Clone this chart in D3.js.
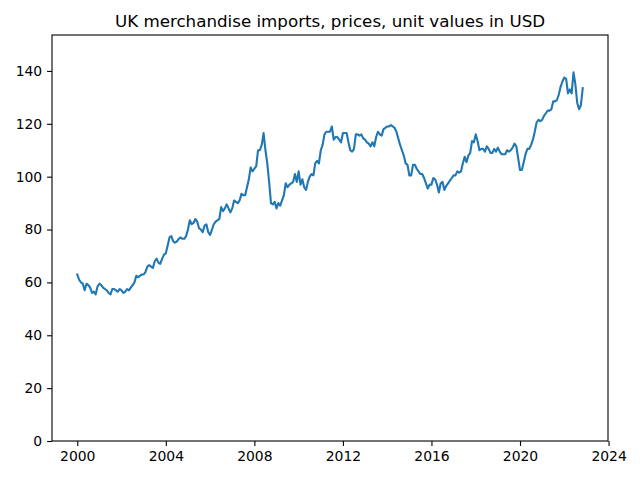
<!DOCTYPE html>
<html>
<head>
<meta charset="utf-8">
<script src="https://cdn.jsdelivr.net/npm/d3@7"></script>
<style>
  body { margin: 0; background: #fff; }
  text { font-family: "DejaVu Sans", sans-serif; }
</style>
</head>
<body>
<svg id="chart" width="640" height="480"></svg>
<script>
// monthly index values, Jan 2000 .. Nov 2022, one row per year
var startYear = 2000;
var values2000 = [63, 61, 60, 59.5, 57, 59.5, 59, 58, 56, 56.5, 55.5, 58.5];
var values2001 = [59.5, 59, 58, 57.5, 57, 56, 55.5, 57.5, 57.5, 57, 56.5, 57.5];
var values2002 = [57, 56, 56.5, 57.5, 57, 58, 59, 60, 62.5, 62, 62.5, 63];
var values2003 = [63, 64, 66, 66.5, 66, 65.5, 68, 69, 67.5, 67, 69, 70.5];
var values2004 = [71, 74, 77, 77.5, 75.5, 75, 75.5, 76.5, 77, 76.5, 76.5, 77.5];
var values2005 = [80, 83.5, 82, 82.5, 84, 83, 80.5, 80, 79, 81.5, 82, 79];
var values2006 = [78, 80, 82, 83, 83.5, 84, 88.5, 87, 88, 89.5, 88, 86.5];
var values2007 = [88, 91, 90.5, 90, 91, 93.5, 93, 93, 96, 99, 103.5, 102];
var values2008 = [103, 104, 110, 110, 112, 116.5, 110, 105, 98, 90, 89.5, 90.5];
var values2009 = [88, 90, 89, 91, 93, 97.5, 96, 97, 97.5, 98, 101, 98];
var values2010 = [102, 97, 99, 96, 95, 98, 100, 101, 100.5, 105, 106, 105];
var values2011 = [110, 112, 116, 117, 117, 117, 119, 114, 115, 115, 114, 113];
var values2012 = [116.5, 116.5, 116.5, 113, 110, 109.5, 110.5, 116, 116, 115.5, 116, 114.5];
var values2013 = [114, 113, 112.5, 111.5, 113, 111.5, 115, 117, 116, 115.5, 118, 118.5];
var values2014 = [119, 119, 119.5, 119, 118.5, 117, 114.5, 112, 110, 108, 105, 104.5];
var values2015 = [100.5, 100.5, 104.5, 104.5, 103, 102, 101, 101, 99.5, 97.5, 95.5, 97];
var values2016 = [97, 99.5, 99, 97, 94, 97.5, 98, 95, 96.5, 97.5, 98.5, 99.5];
var values2017 = [100.5, 100.5, 102, 101.5, 102, 105, 107.5, 105.5, 108, 109, 113.5, 113];
var values2018 = [116, 113.5, 110, 110.5, 110.5, 109.5, 111.5, 110.5, 109, 109, 110.5, 109.5];
var values2019 = [111, 109.5, 108.5, 108.5, 108.5, 110, 109.5, 110, 111, 112.5, 111.5, 107];
var values2020 = [102.5, 102.5, 105.5, 108.5, 110.5, 110.5, 112, 114, 117, 120.5, 121.5, 121];
var values2021 = [121.5, 123, 124, 125, 125, 125.5, 128.5, 128.5, 129, 131, 134, 136];
var values2022 = [137.5, 137, 131.5, 133, 131.5, 139.5, 135, 128, 125.5, 127, 133.5];

var yTicks = [0, 20, 40, 60, 80, 100, 120, 140];
var xTickYears = [2000, 2004, 2008, 2012, 2016, 2020, 2024];
var chartTitle = "UK merchandise imports, prices, unit values in USD";

var allYears = [values2000, values2001, values2002, values2003, values2004, values2005,
    values2006, values2007, values2008, values2009, values2010, values2011, values2012,
    values2013, values2014, values2015, values2016, values2017, values2018, values2019,
    values2020, values2021, values2022];

var data = [];
allYears.forEach(function (row, i) {
    row.forEach(function (v, m) {
        data.push({ t: startYear + i + m / 12, v: v });
    });
});

var margin = { left: 52, right: 32, top: 35, bottom: 39 };
var width = 640, height = 480;

var svg = d3.select('#chart');
var g = svg.append('g').attr('transform', 'translate(' + margin.left + ',' + margin.top + ')');
var w = width - margin.left - margin.right;
var h = height - margin.top - margin.bottom;

// matplotlib style 5% margins on x
var tMin = d3.min(data, d => d.t), tMax = d3.max(data, d => d.t);
var pad = (tMax - tMin) * 0.05;
var x = d3.scaleLinear().domain([tMin - pad, tMax + pad]).range([0, w]);
var y = d3.scaleLinear().domain([0, 153.6]).range([h, 0]);

var line = d3.line().x(d => x(d.t)).y(d => y(d.v));

g.append('path')
    .datum(data)
    .attr('d', line)
    .attr('fill', 'none')
    .attr('stroke', '#1f77b4')
    .attr('stroke-width', 2.1)
    .attr('stroke-linejoin', 'round')
    .attr('stroke-linecap', 'square');

var xAxis = d3.axisBottom(x).tickValues(xTickYears).tickFormat(d3.format('d'))
    .tickSize(4.9).tickPadding(4.9);
var yAxis = d3.axisLeft(y).tickValues(yTicks).tickSize(4.9).tickPadding(4.9);

var gx = g.append('g').attr('transform', 'translate(0,' + h + ')').call(xAxis);
var gy = g.append('g').call(yAxis);

[gx, gy].forEach(function (a) {
    a.select('.domain').remove();
    a.selectAll('.tick line').attr('stroke', '#000').attr('stroke-width', 1.1);
    a.selectAll('.tick text').attr('fill', '#000').style('font-size', '13.9px')
        .style('font-family', '"DejaVu Sans", sans-serif');
});

// frame
g.append('rect')
    .attr('width', w).attr('height', h)
    .attr('fill', 'none').attr('stroke', '#000').attr('stroke-width', 1.1);

svg.append('text')
    .attr('x', margin.left + w / 2)
    .attr('y', 27)
    .attr('text-anchor', 'middle')
    .style('font-size', '16.7px')
    .text(chartTitle);
</script>
</body>
</html>
